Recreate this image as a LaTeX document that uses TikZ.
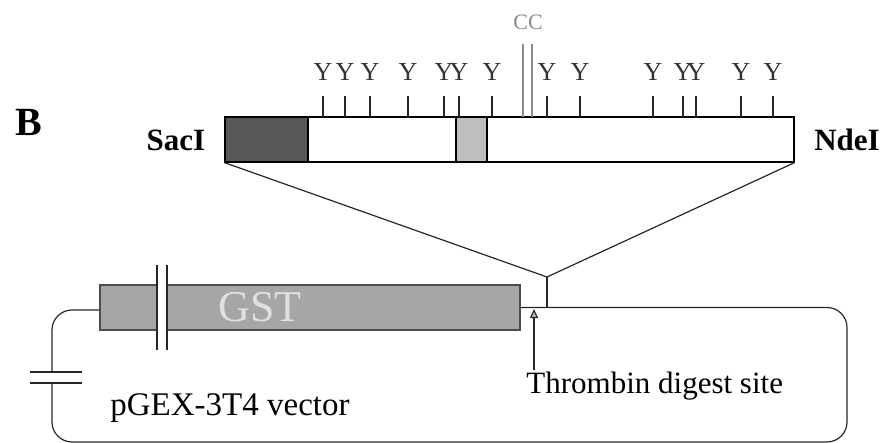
\documentclass[tikz,border=0pt]{standalone}
\usepackage{fontspec}
\setmainfont{Liberation Serif}[BoldFont={Liberation Serif Bold}]
\usepackage{tikz}
\usetikzlibrary{
  arrows.meta,
  positioning,
  calc
}
\definecolor{gsDark}{HTML}{575757}
\definecolor{gsLight}{HTML}{BEBEBE}
\definecolor{gsBox}{HTML}{A6A6A6}
\definecolor{gsMute}{HTML}{8A8A8A}
\tikzset{
  gene/.style={draw, line width=0.6pt, fill=white, minimum width=284.5pt, minimum height=22.5pt, inner sep=0pt},
  segdark/.style={draw, line width=0.6pt, fill=gsDark, minimum width=41.5pt, minimum height=22.5pt, inner sep=0pt, anchor=west},
  seglight/.style={draw, line width=0.6pt, fill=gsLight, minimum width=15.5pt, minimum height=22.5pt, inner sep=0pt},
  gstbox/.style={draw=black!70, line width=0.6pt, fill=gsBox, minimum width=210pt, minimum height=22.5pt, inner sep=0pt},
  site/.style={font=\fontsize{13}{14}\selectfont, text=black!80, inner sep=0pt},
  tick/.style={black!85, line width=0.6pt},
  ccline/.style={gsMute, line width=1pt},
  enzyme/.style={font=\fontsize{15.5}{17}\selectfont\bfseries, inner sep=0pt},
  tag/.style={font=\fontsize{15.5}{17}\selectfont, inner sep=0pt, anchor=west},
  vecline/.style={black!85, line width=0.6pt, rounded corners=10pt},
  breakline/.style={black!85, line width=0.6pt},
  siteArrow/.style={-{Triangle[length=4.5pt, width=4pt, fill=gsLight]}, black!85, line width=0.6pt}
}

\begin{document}
\begin{tikzpicture}[x=0.5pt, y=-0.5pt]
  \useasboundingbox (0,0) rectangle (886,443);
  % insert with SacI / NdeI ends
  \node[gene] (insert) at (509.5,139.5) {};
  \node[segdark] (sig) at (insert.west) {};
  \node[seglight] (mid) at (471.5,139.5) {};
  \node[font=\fontsize{20}{22}\selectfont\bfseries, inner sep=0pt] (panel) at (29,122) {B};
  \node[enzyme] (saci) at (176,140) {SacI};
  \node[enzyme] (ndei) at (847,140) {NdeI};
  % tyrosine sites
  \foreach \x in {323,345,370,408,444,459,492,547,580,653,683,696,741,773} {
    \draw[tick] (\x,96) -- (\x,117);
    \node[site] at (\x,72) {Y};
  }
  \draw[ccline] (523,44) -- (523,117);
  \draw[ccline] (532,44) -- (532,117);
  \node[font=\fontsize{11}{12}\selectfont, text=gsMute, inner sep=0pt] (cc) at (528,22) {CC};
  % zoom lines to the cloning site
  \coordinate (v) at (547,277);
  \coordinate (ins) at (547,307);
  \draw[black!85, line width=0.6pt] (insert.south west) -- (v) -- (insert.south east);
  \draw[black!85, line width=0.6pt] (v) -- (ins);
  % vector
  \node[gstbox] (gst) at (310,307.5) {};
  \node[font=\fontsize{22}{24}\selectfont, text=white!88!black, inner sep=0pt] (gstname) at (260,307) {GST};
  \fill[white] (157,265) rectangle (167,350);
  \draw[breakline] (157,265) -- (157,350);
  \draw[breakline] (167,265) -- (167,350);
  \draw[vecline] (gst.east) -- (847,307.5) -- (847,442) -- (52,442) -- (52,383);
  \draw[vecline] (52,372) -- (52,310) -- (gst.west |- 0,310);
  \draw[breakline] (30,372) -- (82,372);
  \draw[breakline] (30,383) -- (82,383);
  \node[tag] (thr) at (526,386) {Thrombin digest site};
  \node[tag, font=\fontsize{16.5}{18}\selectfont] (pgex) at (110,408) {pGEX-3T4 vector};
  \coordinate (cut) at (534,309);
  \draw[siteArrow] ($(thr.north west)+(8,-2)$) -- (cut);
\end{tikzpicture}
\end{document}
